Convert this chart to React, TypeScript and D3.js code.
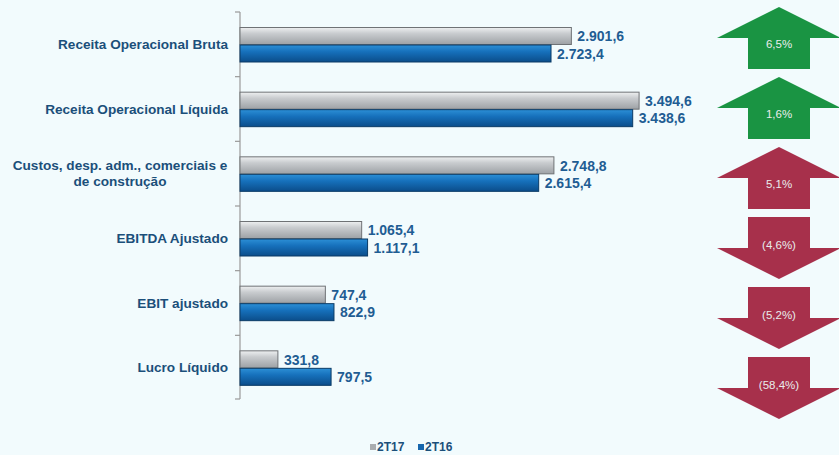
import { useEffect, useRef } from "react"
import * as d3 from "d3"

const categories = [
  "Receita Operacional Bruta",
  "Receita Operacional Líquida",
  "Custos, desp. adm., comerciais e\nde construção",
  "EBITDA Ajustado",
  "EBIT ajustado",
  "Lucro Líquido",
]
const seriesNames = ["2T17", "2T16"]
const values2T17 = [2901.6, 3494.6, 2748.8, 1065.4, 747.4, 331.8]
const values2T16 = [2723.4, 3438.6, 2615.4, 1117.1, 822.9, 797.5]
const variationLabels = ["6,5%", "1,6%", "5,1%", "(4,6%)", "(5,2%)", "(58,4%)"]
const variationDirection = ["up", "up", "up", "down", "down", "down"]
const variationGood = [true, true, false, false, false, false]

const fmt = (v: number) => {
  const [i, d] = v.toFixed(1).split(".")
  return i.replace(/\B(?=(\d{3})+(?!\d))/g, ".") + "," + d
}

export default function App() {
  const svgRef = useRef<SVGSVGElement>(null)

  useEffect(() => {
    document.body.style.margin = "0"
    if (!svgRef.current) return
    const width = 839
    const height = 455
    const svg = d3.select(svgRef.current)
    svg.selectAll("*").remove()
    svg.attr("width", width).attr("height", height)

    svg.append("rect").attr("width", width).attr("height", height).attr("fill", "#f2fbfd")

    const defs = svg.append("defs")
    const grayGrad = defs.append("linearGradient").attr("id", "grayGrad").attr("x1", 0).attr("y1", 0).attr("x2", 0).attr("y2", 1)
    grayGrad.append("stop").attr("offset", "0%").attr("stop-color", "#eef0f1")
    grayGrad.append("stop").attr("offset", "35%").attr("stop-color", "#c9cccf")
    grayGrad.append("stop").attr("offset", "100%").attr("stop-color", "#9da1a5")
    const blueGrad = defs.append("linearGradient").attr("id", "blueGrad").attr("x1", 0).attr("y1", 0).attr("x2", 0).attr("y2", 1)
    blueGrad.append("stop").attr("offset", "0%").attr("stop-color", "#2c8fd6")
    blueGrad.append("stop").attr("offset", "40%").attr("stop-color", "#1670bb")
    blueGrad.append("stop").attr("offset", "100%").attr("stop-color", "#0b4d8a")

    const x = d3.scaleLinear().domain([0, 4000]).range([240, 240 + 4000 * 0.1142])
    const y = d3.scaleBand<string>().domain(categories).range([12, 400]).paddingInner(0)
    const ySeries = d3.scaleBand<string>().domain(seriesNames).range([15.5, 50.5])
    const font = "Liberation Sans, Arial, sans-serif"

    // axis
    const axis = svg.append("g")
    axis.append("line")
      .attr("x1", 240).attr("x2", 240).attr("y1", 12).attr("y2", 399)
      .attr("stroke", "#9a9a9a").attr("stroke-width", 1.2)
    const tickYs = [...categories.map((c) => y(c) as number), 399]
    tickYs.forEach((ty) => {
      axis.append("line")
        .attr("x1", 235).attr("x2", 240).attr("y1", ty).attr("y2", ty)
        .attr("stroke", "#9a9a9a").attr("stroke-width", 1.2)
    })

    const seriesData = [values2T17, values2T16]
    const fills = ["url(#grayGrad)", "url(#blueGrad)"]
    const strokes = ["#6f7275", "#0a3b66"]

    categories.forEach((cat, ci) => {
      const by = y(cat) as number
      seriesNames.forEach((s, si) => {
        const v = seriesData[si][ci]
        const yy = by + (ySeries(s) as number)
        const h = ySeries.bandwidth()
        svg.append("rect")
          .attr("x", x(0)).attr("y", yy)
          .attr("width", x(v) - x(0)).attr("height", h - 0.5)
          .attr("fill", fills[si])
          .attr("stroke", strokes[si]).attr("stroke-width", 1)
        svg.append("text")
          .attr("x", x(v) + 6).attr("y", yy + h / 2)
          .attr("dominant-baseline", "central")
          .attr("font-family", font)
          .attr("font-weight", "bold").attr("font-size", 14)
          .attr("fill", "#1f5d93")
          .text(fmt(v))
      })

      const lines = cat.split("\n")
      const cy = by + y.bandwidth() / 2
      const lh = 16
      lines.forEach((ln, li) => {
        svg.append("text")
          .attr("x", lines.length > 1 ? 120 : 228)
          .attr("y", cy + (li - (lines.length - 1) / 2) * lh)
          .attr("text-anchor", lines.length > 1 ? "middle" : "end")
          .attr("dominant-baseline", "central")
          .attr("font-family", font)
          .attr("font-weight", "bold").attr("font-size", 13.6)
          .attr("fill", "#1b4f7a")
          .text(ln)
      })
    })

    // variation arrows
    const ya = d3.scaleBand<string>().domain(categories).range([7, 419]).paddingInner(0.1143).paddingOuter(0)
    const cx = 779
    const headHalf = 62
    const shaftHalf = 31
    categories.forEach((cat, i) => {
      const top = ya(cat) as number
      const h = ya.bandwidth()
      const mid = top + h / 2
      const bottom = top + h
      let pts: [number, number][]
      if (variationDirection[i] === "up") {
        pts = [
          [cx, top], [cx + headHalf, mid], [cx + shaftHalf, mid], [cx + shaftHalf, bottom],
          [cx - shaftHalf, bottom], [cx - shaftHalf, mid], [cx - headHalf, mid],
        ]
      } else {
        pts = [
          [cx - shaftHalf, top], [cx + shaftHalf, top], [cx + shaftHalf, mid], [cx + headHalf, mid],
          [cx, bottom], [cx - headHalf, mid], [cx - shaftHalf, mid],
        ]
      }
      svg.append("path")
        .attr("d", d3.line()(pts) + "Z")
        .attr("fill", variationGood[i] ? "#1a9443" : "#a7304b")
      svg.append("text")
        .attr("x", cx)
        .attr("y", variationDirection[i] === "up" ? top + 37 : top + 28)
        .attr("text-anchor", "middle")
        .attr("dominant-baseline", "central")
        .attr("font-family", font)
        .attr("font-size", 11.5)
        .attr("fill", "#e9ecec")
        .text(variationLabels[i])
    })

    // legend
    const legend = svg.append("g")
    const legendItems = [
      { name: "2T17", color: "#a9adb0", x: 370 },
      { name: "2T16", color: "#1766ad", x: 418 },
    ]
    legendItems.forEach((it) => {
      legend.append("rect")
        .attr("x", it.x).attr("y", 444).attr("width", 6).attr("height", 6)
        .attr("fill", it.color)
      legend.append("text")
        .attr("x", it.x + 7).attr("y", 447)
        .attr("dominant-baseline", "central")
        .attr("font-family", font)
        .attr("font-weight", "bold").attr("font-size", 12)
        .attr("fill", "#1b4f7a")
        .text(it.name)
    })
  }, [])

  return <svg ref={svgRef} style={{ display: "block" }} />
}
